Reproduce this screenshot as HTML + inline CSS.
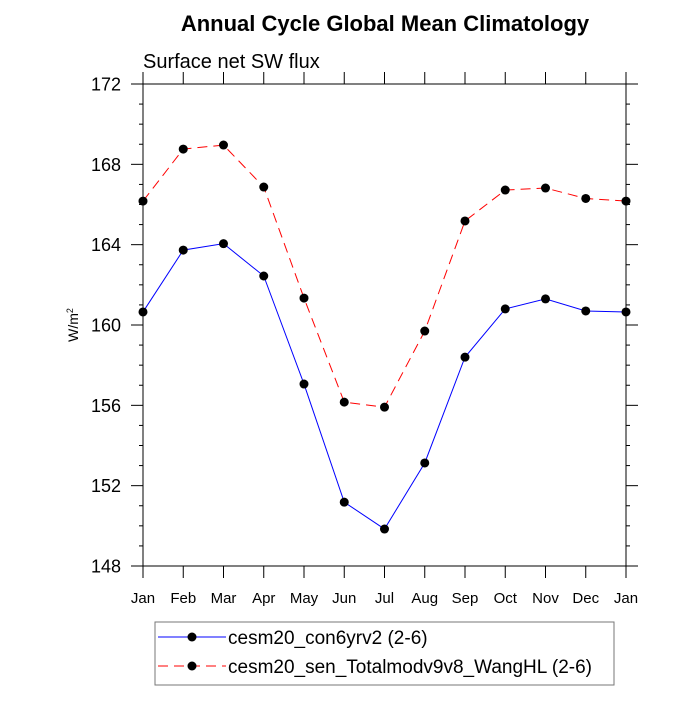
<!DOCTYPE html>
<html><head><meta charset="utf-8"><style>
body{margin:0;background:#fff}
svg text{font-family:"Liberation Sans",sans-serif}
</style></head><body>
<svg id="chart" width="700" height="700" xmlns="http://www.w3.org/2000/svg">
<text x="385" y="31" text-anchor="middle" font-size="22" font-weight="bold">Annual Cycle Global Mean Climatology</text>
<text x="143" y="68" font-size="20">Surface net SW flux</text>
<text transform="translate(78,325) rotate(-90)" text-anchor="middle" font-size="14">W/m<tspan baseline-shift="super" font-size="9">2</tspan></text>
<g id="axes"></g>
<g id="series"></g>
<rect x="155" y="622" width="459" height="63" fill="none" stroke="#777" stroke-width="1"/>
<g>
<line x1="158" y1="637" x2="226" y2="637" stroke="#0000ff" stroke-width="1"/>
<circle cx="192" cy="637" r="4.5" fill="#000"/>
<text x="228" y="644" font-size="19">cesm20_con6yrv2 (2-6)</text>
</g>
<g>
<line x1="158" y1="666" x2="226" y2="666" stroke="#ff0000" stroke-width="1" stroke-dasharray="10,6"/>
<circle cx="192" cy="666" r="4.5" fill="#000"/>
<text x="228" y="673" font-size="19">cesm20_sen_Totalmodv9v8_WangHL (2-6)</text>
</g>
</svg>
<script>
const months=["Jan","Feb","Mar","Apr","May","Jun","Jul","Aug","Sep","Oct","Nov","Dec","Jan"];
const controlValues=[160.65,163.73,164.05,162.44,157.06,151.18,149.84,153.13,158.4,160.8,161.3,160.7,160.65];
const sensValues=[166.17,168.76,168.96,166.87,161.34,156.16,155.91,159.7,165.18,166.72,166.82,166.3,166.17];
const yTicks=[148,152,156,160,164,168,172];
const L=143,R=626,T=84,B=566,yMin=148,yMax=172;
const NS="http://www.w3.org/2000/svg";
const xs=i=>L+(R-L)*i/(months.length-1);
const ys=v=>B-(v-yMin)/(yMax-yMin)*(B-T);
function mk(tag,attrs,parent){const e=document.createElementNS(NS,tag);for(const k in attrs)e.setAttribute(k,attrs[k]);parent.appendChild(e);return e;}
const ax=document.getElementById('axes');
const frame=mk('rect',{x:L,y:T,width:R-L,height:B-T,fill:'none',stroke:'#000','stroke-width':1},ax);


for(let v=yMin;v<=yMax;v++){
  const major=yTicks.includes(v);const len=major?12:4;const y=ys(v);
  mk('line',{x1:L-len,y1:y,x2:L,y2:y,stroke:'#000'},ax);
  mk('line',{x1:R,y1:y,x2:R+len,y2:y,stroke:'#000'},ax);
  if(major){const t=mk('text',{x:L-22,y:y+6.5,'text-anchor':'end','font-size':18},ax);t.textContent=v;
    
    }
}
months.forEach((m,i)=>{const x=xs(i);
  mk('line',{x1:x,y1:B,x2:x,y2:B+12,stroke:'#000'},ax);
  mk('line',{x1:x,y1:T-12,x2:x,y2:T,stroke:'#000'},ax);
  const t=mk('text',{x:x,y:B+37,'text-anchor':'middle','font-size':15},ax);t.textContent=m;
  
  
});
const sg=document.getElementById('series');
function draw(vals,color,dash,name){
  const g=mk('g',{},sg);
  
  
  const pts=vals.map((v,i)=>xs(i)+','+ys(v)).join(' ');
  const a={points:pts,fill:'none',stroke:color,'stroke-width':1};if(dash)a['stroke-dasharray']=dash;
  mk('polyline',a,g);
  vals.forEach((v,i)=>{const c=mk('circle',{cx:xs(i),cy:ys(v),r:4.5,fill:'#000'},g);
    
    });
}
draw(controlValues,'#0000ff',null,'control-series');
draw(sensValues,'#ff0000','10,6','sensitivity-series');
</script>
</body></html>
